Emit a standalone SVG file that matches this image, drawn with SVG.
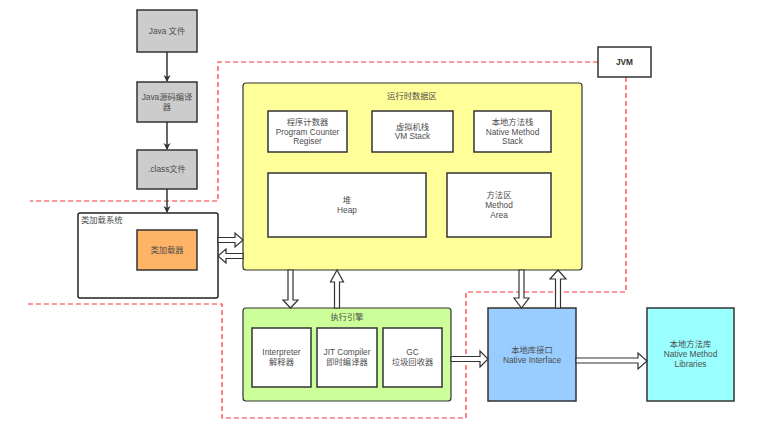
<svg xmlns="http://www.w3.org/2000/svg" width="781" height="425" viewBox="0 0 781 425">
<style>
text{font-family:"Liberation Sans","Noto Sans CJK SC",sans-serif;font-size:8.3px;fill:#4d4d4d;text-anchor:middle}
.box{stroke:#333;stroke-width:1.5}
.white{fill:#fff}
.gray{fill:#ccc}
.dash{fill:none;stroke:#ff3333;stroke-width:1.2;stroke-dasharray:5,3}
.blk{fill:#fff;stroke:#333;stroke-width:1.2;stroke-linejoin:miter}
.line{stroke:#333;stroke-width:1.5;fill:none}
</style>
<defs>
<marker id="ah" markerWidth="8" markerHeight="8" refX="6" refY="4" orient="auto" markerUnits="userSpaceOnUse">
<path d="M0,0.5 L7,4 L0,7.5 L2,4 Z" fill="#333"/>
</marker>
</defs>
<rect width="781" height="425" fill="#fff"/>
<g id="boundaries">
<polyline class="dash" points="598,62 218,62 218,201 30,201"/>
<polyline class="dash" points="626,77 626,292 466,292 466,418 222,418 222,304 26,304"/>
</g>
<g id="java-file"><rect class="box gray" x="137" y="10" width="60" height="42"/><text x="167" y="34">Java 文件</text></g>
<g id="compiler"><rect class="box gray" x="137" y="82" width="60" height="40"/><text x="167" y="100">Java源码编译</text><text x="167" y="110">器</text></g>
<g id="class-file"><rect class="box gray" x="137" y="150" width="60" height="39"/><text x="167" y="172">.class文件</text></g>
<g id="class-loader-system"><rect x="78" y="213" width="140" height="85" rx="2" fill="#fff" stroke="#222" stroke-width="1.5"/><text x="81" y="223" style="text-anchor:start">类加载系统</text></g>
<g id="class-loader"><rect class="box" fill="#ffb366" x="137" y="230" width="60" height="40"/><text x="167" y="253">类加载器</text></g>
<g id="runtime-data-area"><rect x="243" y="83" width="339" height="187" rx="3" fill="#ffff99" stroke="#333" stroke-width="1.2"/><text x="412" y="99">运行时数据区</text></g>
<g id="pc"><rect class="box white" x="268" y="111" width="79" height="41"/><text x="307.5" y="125">程序计数器</text><text x="307.5" y="134.5">Program Counter</text><text x="307.5" y="144">Regiser</text></g>
<g id="vm-stack"><rect class="box white" x="372" y="111" width="81" height="41"/><text x="412.5" y="129.5">虚拟机栈</text><text x="412.5" y="139">VM Stack</text></g>
<g id="native-stack"><rect class="box white" x="474" y="111" width="77" height="41"/><text x="512.5" y="125">本地方法栈</text><text x="512.5" y="134.5">Native Method</text><text x="512.5" y="144">Stack</text></g>
<g id="heap"><rect class="box white" x="268" y="173" width="158" height="64"/><text x="347" y="203">堆</text><text x="347" y="213">Heap</text></g>
<g id="method-area"><rect class="box white" x="447" y="173" width="104" height="64"/><text x="499" y="198">方法区</text><text x="499" y="208">Method</text><text x="499" y="218">Area</text></g>
<g id="execution-engine"><rect x="243" y="308" width="208" height="93" rx="3" fill="#ccff99" stroke="#333" stroke-width="1.2"/><text x="347" y="320">执行引擎</text></g>
<g id="interpreter"><rect class="box white" x="252" y="328" width="59" height="59"/><text x="281.5" y="355">Interpreter</text><text x="281.5" y="365">解释器</text></g>
<g id="jit"><rect class="box white" x="317" y="328" width="60" height="59"/><text x="347" y="355">JIT Compiler</text><text x="347" y="365">即时编译器</text></g>
<g id="gc"><rect class="box white" x="383" y="328" width="59" height="59"/><text x="412.5" y="355">GC</text><text x="412.5" y="365">垃圾回收器</text></g>
<g id="native-interface"><rect class="box" fill="#99ccff" x="488" y="308" width="88" height="93"/><text x="532" y="353">本地库接口</text><text x="532" y="363">Native Interface</text></g>
<g id="native-libraries"><rect class="box" fill="#99ffff" x="647" y="308" width="87" height="93"/><text x="690.5" y="347">本地方法库</text><text x="690.5" y="357">Native Method</text><text x="690.5" y="367">Libraries</text></g>
<g id="jvm"><rect class="box white" x="598" y="47" width="53" height="30"/><text x="624.5" y="65" style="font-weight:bold;fill:#333">JVM</text></g>
<g id="connectors">
<line class="line" x1="167" y1="52" x2="167" y2="81" marker-end="url(#ah)"/>
<line class="line" x1="167" y1="122" x2="167" y2="149" marker-end="url(#ah)"/>
<line class="line" x1="167" y1="189" x2="167" y2="212" marker-end="url(#ah)"/>
<polygon class="blk" points="218,237.5 235,237.5 235,233 243,240 235,247 235,242.5 218,242.5"/>
<polygon class="blk" points="243,253.5 226,253.5 226,249 218,256 226,263 226,258.5 243,258.5"/>
<polygon class="blk" points="288,270 293,270 293,300 298,300 290.5,308 283,300 288,300"/>
<polygon class="blk" points="334.5,308 339.5,308 339.5,282 343.5,282 337,270 330.5,282 334.5,282"/>
<polygon class="blk" points="519,270 524,270 524,298 529,298 521.5,308 514,298 519,298"/>
<polygon class="blk" points="555.5,308 560.5,308 560.5,279 566,279 558,270 550,279 555.5,279"/>
<polygon class="blk" points="451,356.5 480,356.5 480,351 488,359 480,367 480,361.5 451,361.5"/>
<polygon class="blk" points="576,358 638,358 638,353 647,361 638,369 638,363 576,363"/>
</g>
</svg>
